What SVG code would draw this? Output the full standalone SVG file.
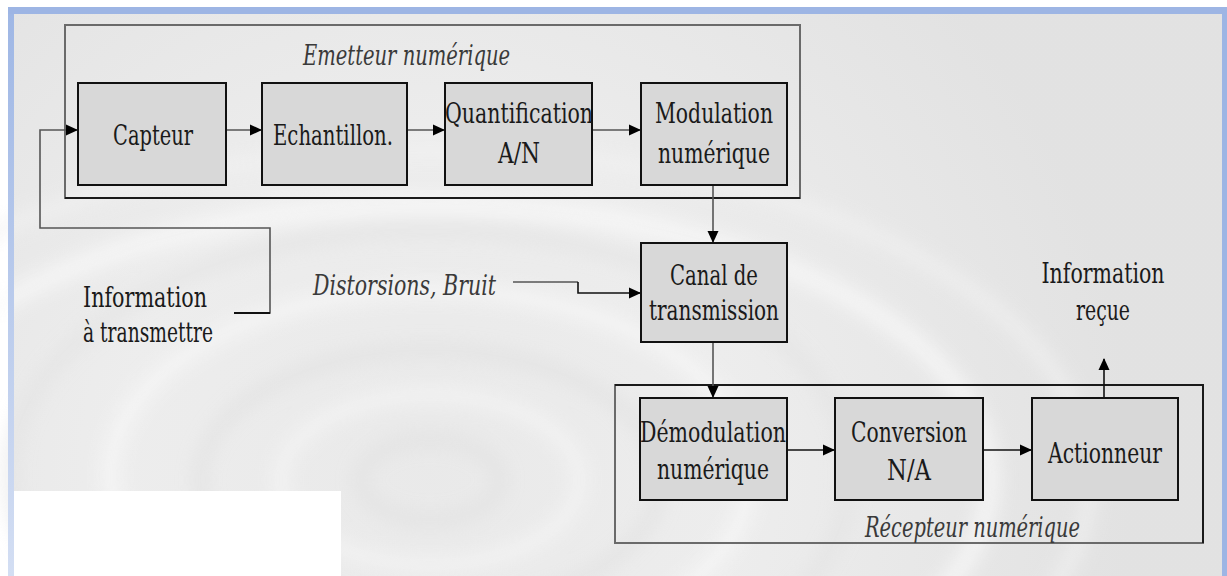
<svg xmlns="http://www.w3.org/2000/svg" width="1227" height="576" viewBox="0 0 1227 576">
  <defs>
    <style>
      .lbl { font-family: 'DejaVu Serif', serif; font-size: 22px; fill: #1a1a1a; }
      .it { font-family: 'DejaVu Serif', serif; font-style: italic; font-size: 22px; fill: #3a3a3a; }
      .box { fill: #d8d8d8; stroke: #111; stroke-width: 2; }
      .frame { fill: none; stroke: #6a6a6a; stroke-width: 2; }
      .edge { fill: none; stroke: #1a1a1a; stroke-width: 2; }
      .wire { fill: none; stroke: #555; stroke-width: 1.6; }
      .stub { fill: none; stroke: #111; stroke-width: 2.2; }
    </style>
    <marker id="arrow" markerUnits="userSpaceOnUse" markerWidth="12" markerHeight="12" viewBox="0 0 12 12" refX="11" refY="6" orient="auto">
      <path d="M0,0.5 L12,6 L0,11.5 Z" fill="#000"/>
    </marker>
    <radialGradient id="bgGlow" cx="430" cy="470" r="700" gradientUnits="userSpaceOnUse">
      <stop offset="0" stop-color="#eaeaea"/>
      <stop offset="0.45" stop-color="#eeeeee"/>
      <stop offset="1" stop-color="#e2e2e2"/>
    </radialGradient>
    <linearGradient id="sideBand" x1="0" y1="0" x2="0" y2="1">
      <stop offset="0" stop-color="#9fb7e5"/>
      <stop offset="1" stop-color="#d3def3"/>
    </linearGradient>
    <filter id="soft" x="-20%" y="-20%" width="140%" height="140%">
      <feGaussianBlur stdDeviation="9"/>
    </filter>
  </defs>

  <!-- page background and frame band -->
  <rect x="0" y="0" width="1227" height="576" fill="#ffffff"/>
  <rect x="14" y="14" width="1208" height="562" fill="#e3e3e3"/>
  <rect x="14" y="14" width="1208" height="562" fill="url(#bgGlow)" opacity="0.9"/>

  <!-- water ripple rings -->
  <g filter="url(#soft)" fill="none" opacity="0.75">
    <ellipse cx="430" cy="480" rx="70" ry="40" stroke="#e0e0e0" stroke-width="12"/>
    <ellipse cx="430" cy="480" rx="150" ry="85" stroke="#f6f6f6" stroke-width="14"/>
    <ellipse cx="430" cy="480" rx="230" ry="130" stroke="#e0e0e0" stroke-width="12"/>
    <ellipse cx="430" cy="475" rx="320" ry="185" stroke="#f8f8f8" stroke-width="16"/>
    <ellipse cx="430" cy="475" rx="420" ry="245" stroke="#e2e2e2" stroke-width="12"/>
    <ellipse cx="430" cy="480" rx="560" ry="275" stroke="#fafafa" stroke-width="18"/>
    <ellipse cx="430" cy="480" rx="660" ry="330" stroke="#f2f2f2" stroke-width="14"/>
  </g>

  <rect x="8" y="7" width="1219" height="7" fill="#9db5e4"/>
  <rect x="8" y="14" width="6" height="562" fill="url(#sideBand)"/>
  <rect x="1222" y="14" width="5" height="562" fill="#9db5e4"/>
  <rect x="14" y="491" width="327" height="85" fill="#ffffff"/>

  <!-- enclosing frames -->
  <g id="emetteur">
    <rect class="frame" x="65" y="25" width="735" height="173"/>
    <path class="edge" d="M65,198 H800"/>
    <text class="it" textLength="207" lengthAdjust="spacingAndGlyphs" transform="translate(303,65) scale(1,1.3)">Emetteur numérique</text>
  </g>
  <g id="recepteur">
    <rect class="frame" x="615" y="385" width="588" height="158"/>
    <path class="edge" d="M615,385 H1203 V543"/>
    <text class="it" textLength="215" lengthAdjust="spacingAndGlyphs" transform="translate(865,537) scale(1,1.3)">Récepteur numérique</text>
  </g>

  <!-- connectors -->
  <g id="connectors">
    <path class="wire" d="M234,313 H270 V228 H40 V130 H77" marker-end="url(#arrow)"/>
    <path class="stub" d="M234,313 H270"/>
    <path class="wire" d="M226,130 H261" marker-end="url(#arrow)"/>
    <path class="wire" d="M407,130 H444" marker-end="url(#arrow)"/>
    <path class="wire" d="M592,130 H640" marker-end="url(#arrow)"/>
    <path class="wire" d="M713,185 V242" marker-end="url(#arrow)"/>
    <path class="wire" d="M513,282 H578"/>
    <path class="wire" style="stroke:#111" d="M578,282 V293 H640" marker-end="url(#arrow)"/>
    <path class="wire" d="M713,342 V397" marker-end="url(#arrow)"/>
    <path class="wire" style="stroke:#111" d="M787,450 H834" marker-end="url(#arrow)"/>
    <path class="wire" style="stroke:#111" d="M983,450 H1031" marker-end="url(#arrow)"/>
    <path class="wire" style="stroke:#111" d="M1104,398 V359" marker-end="url(#arrow)"/>
  </g>

  <!-- blocks -->
  <g id="capteur">
    <rect class="box" x="78" y="83" width="148" height="102"/>
    <text class="lbl" text-anchor="middle" textLength="80" lengthAdjust="spacingAndGlyphs" transform="translate(153,145) scale(1,1.3)">Capteur</text>
  </g>
  <g id="echantillon">
    <rect class="box" x="262" y="83" width="145" height="102"/>
    <text class="lbl" text-anchor="middle" textLength="120" lengthAdjust="spacingAndGlyphs" transform="translate(333,145) scale(1,1.3)">Echantillon.</text>
  </g>
  <g id="quantification">
    <rect class="box" x="445" y="83" width="147" height="102"/>
    <text class="lbl" text-anchor="middle" textLength="148" lengthAdjust="spacingAndGlyphs" transform="translate(519,123) scale(1,1.3)">Quantification</text>
    <text class="lbl" text-anchor="middle" textLength="42" lengthAdjust="spacingAndGlyphs" transform="translate(519,163) scale(1,1.3)">A/N</text>
  </g>
  <g id="modulation">
    <rect class="box" x="641" y="83" width="146" height="102"/>
    <text class="lbl" text-anchor="middle" textLength="118" lengthAdjust="spacingAndGlyphs" transform="translate(714,123) scale(1,1.3)">Modulation</text>
    <text class="lbl" text-anchor="middle" textLength="112" lengthAdjust="spacingAndGlyphs" transform="translate(714,163) scale(1,1.3)">numérique</text>
  </g>
  <g id="canal">
    <rect class="box" x="641" y="243" width="146" height="99"/>
    <text class="lbl" text-anchor="middle" textLength="88" lengthAdjust="spacingAndGlyphs" transform="translate(714,285) scale(1,1.3)">Canal de</text>
    <text class="lbl" text-anchor="middle" textLength="130" lengthAdjust="spacingAndGlyphs" transform="translate(714,320) scale(1,1.3)">transmission</text>
  </g>
  <g id="demodulation">
    <rect class="box" x="640" y="398" width="147" height="102"/>
    <text class="lbl" text-anchor="middle" textLength="146" lengthAdjust="spacingAndGlyphs" transform="translate(713,442) scale(1,1.3)">Démodulation</text>
    <text class="lbl" text-anchor="middle" textLength="112" lengthAdjust="spacingAndGlyphs" transform="translate(713,479) scale(1,1.3)">numérique</text>
  </g>
  <g id="conversion">
    <rect class="box" x="835" y="398" width="148" height="102"/>
    <text class="lbl" text-anchor="middle" textLength="116" lengthAdjust="spacingAndGlyphs" transform="translate(909,442) scale(1,1.3)">Conversion</text>
    <text class="lbl" text-anchor="middle" textLength="44" lengthAdjust="spacingAndGlyphs" transform="translate(909,480) scale(1,1.3)">N/A</text>
  </g>
  <g id="actionneur">
    <rect class="box" x="1032" y="398" width="146" height="102"/>
    <text class="lbl" text-anchor="middle" textLength="114" lengthAdjust="spacingAndGlyphs" transform="translate(1105,463) scale(1,1.3)">Actionneur</text>
  </g>

  <!-- free labels -->
  <g id="source">
    <text class="lbl" textLength="124" lengthAdjust="spacingAndGlyphs" transform="translate(83,307) scale(1,1.3)">Information</text>
    <text class="lbl" textLength="130" lengthAdjust="spacingAndGlyphs" transform="translate(83,342) scale(1,1.3)">à transmettre</text>
  </g>
  <g id="bruit">
    <text class="it" textLength="183" lengthAdjust="spacingAndGlyphs" transform="translate(313,295) scale(1,1.3)">Distorsions, Bruit</text>
  </g>
  <g id="destination">
    <text class="lbl" text-anchor="middle" textLength="123" lengthAdjust="spacingAndGlyphs" transform="translate(1103,283) scale(1,1.3)">Information</text>
    <text class="lbl" text-anchor="middle" textLength="54" lengthAdjust="spacingAndGlyphs" transform="translate(1103,320) scale(1,1.3)">reçue</text>
  </g>
</svg>
